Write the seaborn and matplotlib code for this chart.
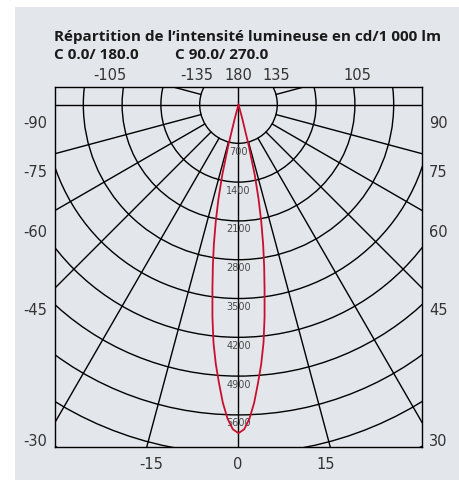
import numpy as np
import pandas as pd
import matplotlib
matplotlib.use("Agg")
import matplotlib.pyplot as plt
from matplotlib.patches import Circle, Rectangle
import seaborn as sns

# Luminous intensity (cd/1000 lm) versus angle from the downward vertical (degrees)
gamma_deg = [0, 1, 2, 3, 4, 5, 6, 7, 8, 9, 10, 11, 12, 13, 14, 15, 16]
intensity_cd = [5930, 5860, 5670, 5390, 5040, 4700, 4320, 3860, 3380,
                2960, 2560, 2150, 1740, 1300, 760, 260, 0]

# Polar grid
ring_values = [700, 1400, 2100, 2800, 3500, 4200, 4900, 5600, 6300, 7000]
ring_labels = ["700", "1400", "2100", "2800", "3500", "4200", "4900", "5600"]
spoke_angles = [15, 30, 45, 60, 75, 105, 120, 135]

# Angle annotations around the frame
top_labels = ["-105", "-135", "180", "135", "105"]
left_labels = ["-90", "-75", "-60", "-45", "-30"]
right_labels = ["90", "75", "60", "45", "30"]
bottom_labels = ["-15", "0", "15"]

title_line1 = "Répartition de l’intensité lumineuse en cd/1 000 lm"
plane_a = "C 0.0/ 180.0"
plane_b = "C 90.0/ 270.0"

sns.set_style("white")
plt.rcParams["font.family"] = ["DejaVu Sans"]

W, H = 459, 481
fig = plt.figure(figsize=(W / 100, H / 100), dpi=100)
fig.patch.set_facecolor("white")
panel = "#e3e6ea"
fig.add_artist(Rectangle((15 / W, 0), 1 - 15 / W, 1 - 8 / H,
                         transform=fig.transFigure, facecolor=panel,
                         edgecolor="none", zorder=0))

# Frame in pixels: x 55..422, y 88..448
ax = fig.add_axes([55 / W, (H - 448) / H, 367 / W, 360 / H])
ax.set_facecolor(panel)
ax.set_xlim(-3311, 3311)
ax.set_ylim(-6179, 316)
for s in ax.spines.values():
    s.set_color("black")
    s.set_linewidth(1.0)
ax.set_xticks([])
ax.set_yticks([])

grid_kw = dict(color="black", lw=1.0, zorder=2)

# concentric intensity circles
for r in ring_values:
    ax.add_patch(Circle((0, 0), r, fill=False, edgecolor="black",
                        lw=1.0, zorder=2, clip_on=True))

# axes through the centre
ax.plot([-4000, 4000], [0, 0], **grid_kw)
ax.plot([0, 0], [-7000, 1000], **grid_kw)

# radial spokes starting at the first ring
for a in spoke_angles:
    t = np.deg2rad(a)
    for sgn in (-1, 1):
        x0, y0 = sgn * 700 * np.sin(t), -700 * np.cos(t)
        x1, y1 = sgn * 9000 * np.sin(t), -9000 * np.cos(t)
        ax.plot([x0, x1], [y0, y1], **grid_kw)

# ring value labels along the axis
for lab, r in zip(ring_labels, ring_values):
    ax.text(0, -(r + 135), lab, ha="center", va="center", fontsize=7,
            color="#4a4a4a", zorder=3)

# intensity curve (mirrored about the vertical)
ang = [-g for g in gamma_deg[::-1]] + gamma_deg[1:]
val = intensity_cd[::-1] + intensity_cd[1:]
df = pd.DataFrame({"gamma": ang, "I": val})
df["x"] = df["I"] * np.sin(np.deg2rad(df["gamma"]))
df["y"] = -df["I"] * np.cos(np.deg2rad(df["gamma"]))
sns.lineplot(data=df, x="x", y="y", sort=False, estimator=None,
             color="#c8102e", lw=1.3, ax=ax, zorder=4)
ax.set_xlabel("")
ax.set_ylabel("")

# text helpers in pixel coordinates
def ftext(px, py, s, **kw):
    fig.text(px / W, 1 - py / H, s, **kw)

lab_kw = dict(fontsize=10.5, color="#333333", va="center",
              family=["DejaVu Sans"])
for s, px in zip(top_labels, [110, 197, 238, 276, 357]):
    ftext(px, 76, s, ha="center", **lab_kw)
for s, py in zip(left_labels, [123, 173, 233, 311, 442]):
    ftext(47, py, s, ha="right", **lab_kw)
for s, py in zip(right_labels, [123, 173, 233, 311, 442]):
    ftext(429, py, s, ha="left", **lab_kw)
for s, px in zip(bottom_labels, [151, 238, 326]):
    ftext(px, 465, s, ha="center", **lab_kw)

ttl_kw = dict(fontsize=11, fontweight="bold", color="#1a1a1a",
              va="baseline", ha="left", family=["Open Sans", "DejaVu Sans"])
ftext(54, 40.5, title_line1, **ttl_kw)
ftext(54, 59, plane_a, **ttl_kw)
ftext(175, 59, plane_b, **ttl_kw)

fig.savefig("out.png", dpi=100, facecolor=fig.get_facecolor())
